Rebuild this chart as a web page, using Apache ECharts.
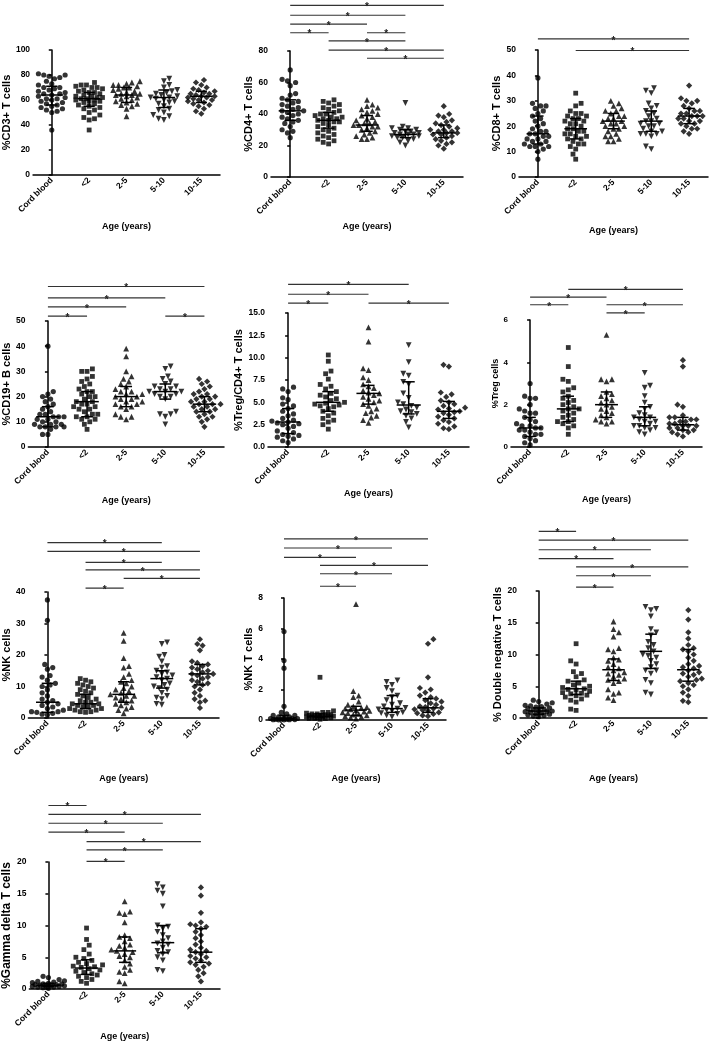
<!DOCTYPE html>
<html>
<head>
<meta charset="utf-8">
<script src="https://cdn.jsdelivr.net/npm/echarts@6/dist/echarts.min.js"></script>
<style>
html,body{margin:0;padding:0;background:#fff;}
#chart{width:709px;height:1045px;}
</style>
</head>
<body>
<div id="chart"></div>
<script>
// ---------------- DATA ----------------
const categories = ['Cord blood', '<2', '2-5', '5-10', '10-15'];

// Each panel: values per age group, [median, q1, q3] per group, significance bars [from, to, yLevel]
const cd3 = [
  [81,80,80,79,78,77,75,73,72,70,70,69,68,67,66,65,65,64,63,62,61,61,60,59,58,57,56,55,54,53,52,51,50,36],
  [74,72,72,71,70,70,69,68,67,66,66,65,64,63,63,62,62,61,61,60,60,59,59,58,57,56,55,54,53,52,50,48,46,45,44,36],
  [75,74,73,72,72,71,70,70,69,68,67,66,65,65,64,64,63,62,61,60,59,58,57,56,55,53,47],
  [77,75,72,70,68,67,66,65,64,63,62,62,61,60,59,58,57,55,53,52,50,48,47,45,44],
  [76,74,72,70,69,68,67,66,65,65,64,63,63,62,62,61,60,60,59,58,57,56,55,53,51,49]
];
const cd3Stats = [[64,56,71],[61,55,66],[64,58,70],[62,54,68],[63,58,67]];
const cd3Sig = [];

const cd4 = [
  [68,62,61,60,58,53,52,50,49,48,47,46,45,44,43,42,42,41,40,39,38,37,36,35,34,32,30,29,28,25],
  [49,48,47,46,45,44,43,42,41,40,40,39,38,38,37,37,36,36,35,35,34,33,32,31,30,29,28,27,26,25,24,23,22,21],
  [49,46,45,44,43,42,41,40,39,38,37,36,35,34,34,33,33,32,32,31,30,29,28,27,26,25,24,24],
  [47,32,31,31,30,30,29,29,28,28,27,27,27,26,26,25,25,24,23,22,20],
  [45,40,39,38,36,35,34,33,32,31,30,30,29,29,28,28,27,27,26,25,24,23,22,21,20,18]
];
const cd4Stats = [[42,36,49],[36,31,41],[33,29,39],[27,25,30],[28,25,33]];
const cd4Sig = [[0,4,109],[0,3,102.7],[0,2,97.1],[0,1,91.6],[2,3,91.6],[1,3,86.4],[1,4,80.6],[2,4,75.4]];

const cd8 = [
  [39,29,28,28,27,26,25,24,23,22,21,20,19,18,18,17,17,16,16,15,15,14,14,13,13,12,12,12,11,10,7],
  [33,29,28,26,25,25,24,24,23,23,22,22,21,21,20,19,19,18,18,17,17,16,16,15,15,14,13,13,12,11,9,7],
  [30,29,28,27,26,26,25,24,24,23,23,22,22,21,21,20,20,19,19,18,17,16,16,15,14,14],
  [35,34,33,29,28,27,26,25,24,23,22,22,21,21,20,20,19,18,18,17,17,17,16,12,11],
  [36,31,30,30,29,28,27,26,26,25,25,24,24,24,23,23,22,22,21,21,20,19,19,18,17]
];
const cd8Stats = [[17,13,24],[19,15,23],[22,19,25],[22,18,26],[24,21,27]];
const cd8Sig = [[0,4,54.4],[1,4,49.8]];

const cd19 = [
  [40,22,21,20,19,18,17,16,15,14,13,13,12,12,12,11,11,10,10,9,9,9,8,8,8,8,7,5,5],
  [31,30,30,28,27,26,25,24,23,22,22,21,20,20,19,18,18,17,17,16,16,15,15,14,13,13,12,12,11,11,10,9,7],
  [39,36,30,28,27,26,25,24,23,22,22,21,21,20,20,19,19,18,18,17,17,16,16,15,13,12,12,11],
  [32,31,28,27,26,25,24,24,23,23,22,22,22,21,21,20,20,19,14,13,13,12,9],
  [27,26,25,24,23,22,21,21,20,20,19,19,18,18,17,17,17,16,16,15,15,14,14,13,12,12,11,10,8]
];
const cd19Stats = [[12,8,16],[18,12,22],[20,16,24],[22,19,25],[17,14,20]];
const cd19Sig = [[0,4,63.7],[0,3,59.2],[0,2,55.6],[0,1,51.9],[3,4,51.9]];

const tregCd4 = [
  [6.7,6.5,6.2,5.5,5.3,4.8,4.6,4.3,4.0,3.7,3.5,3.2,3.0,2.9,2.8,2.7,2.6,2.5,2.3,2.1,1.8,1.6,1.4,1.3,1.2,1.1,0.9,0.7,0.5],
  [10.3,9.6,8.5,8.2,7.6,7.0,6.8,6.5,6.2,6.0,5.8,5.6,5.4,5.2,5.0,4.9,4.8,4.7,4.6,4.5,4.3,4.0,3.8,3.5,3.2,3.0,2.8,2.5,2.0],
  [13.4,11.8,8.8,8.6,7.8,7.5,7.0,6.8,6.6,6.3,6.1,6.0,5.8,5.6,5.4,5.2,5.0,4.8,4.6,4.3,4.0,3.8,3.5,3.3,3.0,2.7],
  [11.4,9.5,8.2,8.0,7.3,7.0,6.0,5.5,5.0,4.8,4.6,4.4,4.2,4.0,3.9,3.7,3.5,3.2,2.8,2.2],
  [9.2,9.0,6.1,5.9,5.6,5.2,5.0,4.8,4.6,4.4,4.3,4.2,4.0,3.9,3.8,3.6,3.4,3.2,3.0,2.8,2.6,2.3,2.1,2.0]
];
const tregCd4Stats = [[2.8,1.5,4.3],[5.0,4.0,6.2],[6.0,4.8,6.9],[4.7,3.7,7.3],[4.0,3.2,5.1]];
const tregCd4Sig = [[0,3,18.2],[0,2,17.1],[0,1,16.1],[2,4,16.1]];

const treg = [
  [3.0,2.4,2.3,2.3,2.0,1.8,1.7,1.6,1.6,1.4,1.3,1.2,1.1,1.0,1.0,0.9,0.9,0.8,0.8,0.7,0.6,0.6,0.5,0.4,0.3,0.2,0.1],
  [4.7,3.8,3.2,3.1,2.8,2.7,2.6,2.4,2.3,2.2,2.1,2.0,1.9,1.8,1.8,1.7,1.6,1.5,1.4,1.3,1.2,1.2,1.1,1.0,0.9,0.6],
  [5.3,3.2,3.2,3.1,2.6,2.5,2.4,2.3,2.2,2.1,2.0,1.9,1.8,1.7,1.6,1.5,1.4,1.3,1.2,1.2,1.1],
  [3.5,2.9,2.8,2.4,2.1,1.9,1.8,1.6,1.5,1.4,1.4,1.3,1.2,1.2,1.1,1.0,1.0,0.9,0.9,0.8,0.7,0.6],
  [4.1,3.8,2.0,1.9,1.5,1.4,1.4,1.3,1.3,1.2,1.2,1.1,1.1,1.0,1.0,1.0,0.9,0.9,0.8,0.8,0.7,0.7,0.6,0.5]
];
const tregStats = [[0.9,0.5,1.4],[1.8,1.2,2.4],[2.0,1.4,2.6],[1.4,1.0,1.9],[1.05,0.8,1.4]];
const tregSig = [[1,4,7.45],[0,2,7.08],[0,1,6.72],[2,4,6.72],[2,3,6.34]];

const nk = [
  [37.5,31,17,16,15.5,13.5,13,12,11,10.5,10,9,8,7,6,5.5,5,4.5,4,3.5,3,2.5,2,2,1.8,1.5,1.2,1],
  [12.5,12,11.5,11,10.5,10,9.5,9,8.5,8,7.5,7,6.5,6,5.5,5,5,4.5,4.5,4,4,3.5,3.5,3,3,2.5,2.5,2,2,1.8],
  [27,24.5,19,16.5,16,14,13,12,11.5,11,10,9.5,9,8.5,8,7.5,7,7,6.5,6,5.5,5,4.5,4,3.5,3,2.5,1.5],
  [24,23.5,20,19.5,18,16.5,16,15,14.5,14,13.5,13,12.5,12,11,10.5,10,9.5,9,8,7,6.5,6,4.5,4.2],
  [25,23.5,23,21.5,18,17.5,17,16.5,16,15.5,15,14.5,14,14,13.5,13,12.5,12,11.5,11,10.5,10,9,8,7,6,5.5,5,3.2]
];
const nkStats = [[5,1.8,11],[4.5,3,7.5],[7.5,5,11.5],[12.5,9.5,15],[14,10.5,17]];
const nkSig = [[0,3,55.7],[0,4,52.9],[1,3,49.4],[1,4,47.0],[2,4,44.3],[1,2,41.2]];

const nkt = [
  [5.8,3.9,3.4,0.9,0.5,0.4,0.3,0.3,0.2,0.2,0.15,0.1,0.1,0.1,0.05,0.05,0.05,0.03,0.02,0.02,0.01,0.01],
  [2.8,0.6,0.5,0.5,0.45,0.4,0.4,0.35,0.35,0.3,0.3,0.3,0.25,0.25,0.2,0.2,0.2,0.15,0.15,0.1,0.1,0.1,0.05],
  [7.6,1.9,1.6,1.5,1.2,1.0,0.9,0.85,0.8,0.75,0.7,0.65,0.6,0.55,0.5,0.45,0.4,0.35,0.3,0.25,0.2,0.15,0.1],
  [2.6,2.5,2.3,2.1,1.9,1.6,1.5,1.3,1.1,1.0,0.9,0.8,0.75,0.7,0.65,0.6,0.5,0.45,0.4,0.3,0.2],
  [5.3,5.0,2.8,2.1,2.0,1.8,1.6,1.5,1.4,1.3,1.2,1.1,1.0,0.9,0.85,0.8,0.75,0.7,0.65,0.6,0.5,0.45,0.4,0.3,0.25]
];
const nktStats = [[0.1,0.03,0.3],[0.25,0.15,0.4],[0.65,0.3,0.9],[0.75,0.5,1.6],[0.8,0.5,1.4]];
const nktSig = [[0,4,11.88],[0,3,11.28],[0,2,10.66],[1,4,10.14],[1,3,9.59],[1,2,8.77]];

const dn = [
  [2.8,2.6,2.4,2.2,2.0,1.9,1.8,1.7,1.6,1.5,1.4,1.3,1.2,1.1,1.0,1.0,0.9,0.8,0.7,0.6,0.5,0.4,0.3,0.2],
  [11.7,9.0,8.5,7.3,7.0,6.5,6.0,5.8,5.5,5.2,5.0,4.8,4.6,4.5,4.4,4.2,4.0,3.9,3.8,3.6,3.5,3.3,3.0,2.8,2.5,1.4,1.2],
  [15.2,14.0,13.5,12.8,11.0,10.8,10.5,9.5,9.2,9.0,8.5,8.0,7.8,7.5,7.2,7.0,6.8,6.5,6.2,6.0,5.8,5.5,4.5,4.0,3.8,3.2,2.8],
  [17.5,17.2,17.0,16.0,14.0,13.5,13.0,12.0,11.5,11.0,10.5,10.0,9.8,9.5,9.0,8.5,8.0,7.5,7.5,7.0,6.0,5.5,4.0,3.7],
  [17.0,15.5,13.5,12.5,11.5,11.0,10.8,10.5,10.0,9.5,9.0,8.5,8.2,8.0,7.8,7.5,7.2,7.0,6.8,6.5,6.2,6.0,5.8,5.5,5.2,5.0,4.5,4.0,3.5,2.7,2.5]
];
const dnStats = [[1.1,0.6,1.6],[4.6,3.7,5.8],[7.6,5.9,9.3],[10.5,7.8,13.2],[7.6,5.8,10.8]];
const dnSig = [[0,1,29.4],[0,4,28.0],[0,3,26.5],[0,2,25.1],[1,4,23.8],[1,3,22.4],[1,2,20.6]];

const gd = [
  [2.0,1.8,1.5,1.3,1.2,1.1,1.0,0.9,0.8,0.8,0.7,0.7,0.6,0.6,0.5,0.5,0.4,0.4,0.3,0.3,0.2,0.1],
  [9.6,7.8,6.9,6.2,5.5,5.0,4.8,4.5,4.2,4.0,3.8,3.6,3.5,3.4,3.2,3.0,2.8,2.6,2.4,2.2,2.0,1.8,1.5,1.2,0.9],
  [13.8,12.2,12.0,11.8,10.5,8.5,8.2,8.0,7.5,7.0,6.8,6.5,6.2,6.0,5.8,5.5,5.2,5.0,4.5,4.0,3.5,3.0,2.7,2.5,1.2,0.9],
  [16.5,16.0,15.5,15.0,13.0,10.0,9.8,9.5,9.0,8.5,8.0,7.5,7.2,7.0,6.5,6.0,5.8,5.5,5.0,4.5,3.0,2.8],
  [16.0,14.7,12.0,10.5,10.2,10.0,9.8,9.5,9.0,8.5,8.0,7.5,7.0,6.5,6.2,6.0,5.8,5.5,5.2,5.0,4.8,4.5,4.2,4.0,3.8,3.5,3.0,2.5,2.0,1.2]
];
const gdStats = [[0.6,0.4,0.9],[3.3,2.3,4.6],[6.0,4.2,8.2],[7.3,5.7,10],[5.8,4.2,9.5]];
const gdSig = [[0,1,28.9],[0,4,27.5],[0,3,26.1],[0,2,24.7],[1,4,23.2],[1,3,21.9],[1,2,20.1]];

// ---------------- LAYOUT / STYLE ----------------
const panels = [
  {vals: cd3, stats: cd3Stats, sig: cd3Sig, title: '%CD3+ T cells', max: 100, interval: 20, left: 31, top: 50, width: 189, height: 125, yGap: 18, xGap: 47, ySize: 11},
  {vals: cd4, stats: cd4Stats, sig: cd4Sig, title: '%CD4+ T cells', max: 80, interval: 20, left: 271, top: 51, width: 192, height: 126, yGap: 15, xGap: 45, ySize: 11},
  {vals: cd8, stats: cd8Stats, sig: cd8Sig, title: '%CD8+ T cells', max: 50, interval: 10, left: 519, top: 50, width: 189, height: 127, yGap: 14, xGap: 49, ySize: 11},
  {vals: cd19, stats: cd19Stats, sig: cd19Sig, title: '%CD19+ B cells', max: 50, interval: 10, left: 27, top: 321, width: 197, height: 126, yGap: 14, xGap: 49, ySize: 11},
  {vals: tregCd4, stats: tregCd4Stats, sig: tregCd4Sig, title: '%Treg/CD4+ T cells', max: 15, interval: 2.5, fixed: 1, left: 268, top: 313, width: 201, height: 134, yGap: 15, xGap: 38, ySize: 11},
  {vals: treg, stats: tregStats, sig: tregSig, title: '%Treg cells', max: 6, interval: 2, left: 511, top: 320, width: 191, height: 127, yGap: 10, xGap: 48, ySize: 9},
  {vals: nk, stats: nkStats, sig: nkSig, title: '%NK cells', max: 40, interval: 10, left: 25, top: 592, width: 194, height: 126, yGap: 12, xGap: 56, ySize: 11},
  {vals: nkt, stats: nktStats, sig: nktSig, title: '%NK T cells', max: 8, interval: 2, left: 266, top: 598, width: 180, height: 122, yGap: 11, xGap: 54, ySize: 11},
  {vals: dn, stats: dnStats, sig: dnSig, title: '% Double negative T cells', max: 20, interval: 5, left: 520, top: 591, width: 187, height: 127, yGap: 17, xGap: 56, ySize: 11},
  {vals: gd, stats: gdStats, sig: gdSig, title: '%Gamma delta T cells', max: 20, interval: 5, left: 27, top: 862, width: 193, height: 127, yGap: 16, xGap: 43, ySize: 12}
];

const FONT = '"Liberation Sans", Arial, sans-serif';
const symbols = ['circle', 'rect', 'triangle', 'triangle', 'diamond'];
const symRot = [0, 0, 0, 180, 0];
const symSize = [5.2, 4.8, 5.8, 5.8, 6.2];

// beeswarm layout: horizontal offsets (in category units) so points do not pile on each other
function swarm(values, pxPerUnit, pxPerCat, dist) {
  const order = values.map((v, i) => i).sort((a, b) => values[a] - values[b]);
  const placed = [];
  const offs = new Array(values.length).fill(0);
  const maxOff = 0.42 * pxPerCat;
  const step = dist / 2;
  let flip = 1;
  for (const i of order) {
    const y = values[i] * pxPerUnit;
    let chosen = null, best = -1, bestX = 0;
    for (let k = 0; k * step <= maxOff && chosen === null; k++) {
      const cands = k === 0 ? [0] : [flip * k * step, -flip * k * step];
      for (const x of cands) {
        let minD = Infinity;
        for (const p of placed) {
          const d = Math.hypot(p.x - x, p.y - y);
          if (d < minD) minD = d;
        }
        if (minD >= dist) { chosen = x; break; }
        if (minD > best) { best = minD; bestX = x; }
      }
    }
    if (chosen === null) chosen = bestX;
    flip = -flip;
    placed.push({x: chosen, y});
    offs[i] = chosen / pxPerCat;
  }
  return offs;
}

const grid = [], xAxis = [], yAxis = [], series = [];
const axisText = {fontFamily: FONT, fontWeight: 'bold', color: '#000'};

panels.forEach((P, k) => {
  grid.push({left: P.left, top: P.top, width: P.width, height: P.height, containLabel: false});
  xAxis.push({
    type: 'category', gridIndex: k, data: categories, boundaryGap: true,
    name: 'Age (years)', nameLocation: 'middle', nameGap: P.xGap,
    nameTextStyle: Object.assign({fontSize: 9}, axisText),
    axisLine: {lineStyle: {color: '#000', width: 1.5}},
    axisTick: {alignWithLabel: true, length: 3, lineStyle: {color: '#000', width: 1.5}},
    axisLabel: Object.assign({rotate: 45, fontSize: 8.5, margin: 4, interval: 0}, axisText),
    splitLine: {show: false}
  });
  xAxis.push({type: 'value', gridIndex: k, min: -0.5, max: 4.5, show: false});
  yAxis.push({
    type: 'value', gridIndex: k, min: 0, max: P.max, interval: P.interval,
    name: P.title, nameLocation: 'middle', nameGap: P.yGap,
    nameTextStyle: Object.assign({fontSize: P.ySize}, axisText),
    axisLine: {show: true, lineStyle: {color: '#000', width: 1.5}},
    axisTick: {show: true, length: 3, lineStyle: {color: '#000', width: 1.5}},
    axisLabel: Object.assign({fontSize: k === 5 ? 8 : 8.5, margin: 3,
      formatter: v => P.fixed ? v.toFixed(P.fixed) : String(v)}, axisText),
    splitLine: {show: false}
  });
  const pxPerUnit = P.height / P.max;
  const pxPerCat = P.width / categories.length;
  P.vals.forEach((vals, g) => {
    const offs = swarm(vals, pxPerUnit, pxPerCat, 5.4);
    series.push({
      type: 'scatter', xAxisIndex: 2 * k + 1, yAxisIndex: k,
      symbol: symbols[g], symbolRotate: symRot[g], symbolSize: symSize[g],
      itemStyle: {color: '#000'}, silent: true, z: 2,
      data: vals.map((v, j) => [g + offs[j], v])
    });
  });
  // median with interquartile range
  series.push({
    type: 'custom', xAxisIndex: 2 * k + 1, yAxisIndex: k, z: 3, silent: true,
    data: P.stats.map((s, g) => [g, s[0], s[1], s[2]]),
    renderItem: (params, api) => {
      const g = api.value(0);
      const pm = api.coord([g, api.value(1)]);
      const p1 = api.coord([g, api.value(2)]);
      const p3 = api.coord([g, api.value(3)]);
      const cw = api.size([1, 0])[0];
      const hw = cw * 0.3, cap = cw * 0.15;
      const st = {stroke: '#000', lineWidth: 1.5};
      return {type: 'group', children: [
        {type: 'line', shape: {x1: pm[0] - hw, y1: pm[1], x2: pm[0] + hw, y2: pm[1]}, style: st},
        {type: 'line', shape: {x1: pm[0], y1: p1[1], x2: pm[0], y2: p3[1]}, style: st},
        {type: 'line', shape: {x1: pm[0] - cap, y1: p1[1], x2: pm[0] + cap, y2: p1[1]}, style: st},
        {type: 'line', shape: {x1: pm[0] - cap, y1: p3[1], x2: pm[0] + cap, y2: p3[1]}, style: st}
      ]};
    }
  });
  // significance bars
  if (P.sig.length) {
    series.push({
      type: 'custom', xAxisIndex: 2 * k + 1, yAxisIndex: k, z: 4, clip: false, silent: true,
      data: P.sig,
      renderItem: (params, api) => {
        const a = api.coord([api.value(0), api.value(2)]);
        const b = api.coord([api.value(1), api.value(2)]);
        return {type: 'group', children: [
          {type: 'line', shape: {x1: a[0], y1: a[1], x2: b[0], y2: b[1]}, style: {stroke: '#333', lineWidth: 1.2}},
          {type: 'text', x: (a[0] + b[0]) / 2, y: a[1] + 2, style: {text: '*', fontSize: 10, fontWeight: 'bold', fontFamily: FONT, fill: '#222', align: 'center', verticalAlign: 'middle'}}
        ]};
      }
    });
  }
});

const chart = echarts.init(document.getElementById('chart'), null, {renderer: 'canvas'});
chart.setOption({animation: false, backgroundColor: '#fff', grid, xAxis, yAxis, series});
</script>
</body>
</html>
